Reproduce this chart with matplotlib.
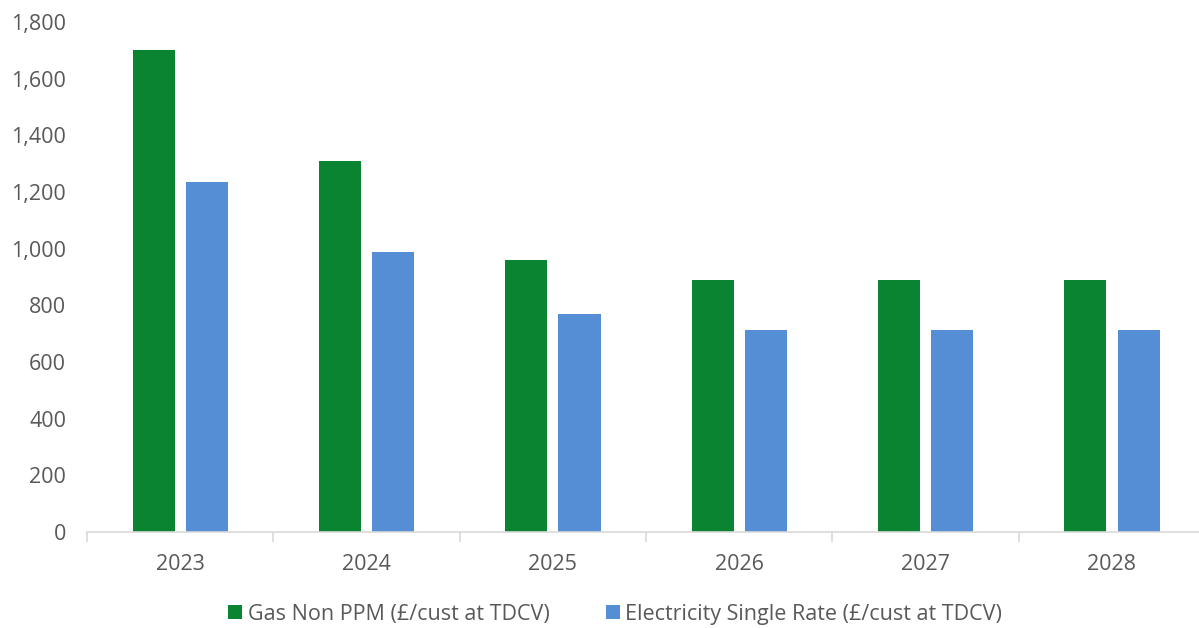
import matplotlib.pyplot as plt
import numpy as np

years = ["2023", "2024", "2025", "2026", "2027", "2028"]
gas = [1700, 1310, 960, 890, 890, 890]
elec = [1235, 988, 770, 713, 713, 713]
labels = ["Gas Non PPM (£/cust at TDCV)", "Electricity Single Rate (£/cust at TDCV)"]

plt.rcParams['font.family'] = ['Open Sans', 'DejaVu Sans']

fig = plt.figure(figsize=(11.99, 6.28), dpi=100)
ax = fig.add_axes([0.0726, 0.153, 0.9325, 0.812])

x = np.arange(len(years))
w = 0.226
gap = 0.06
ax.bar(x - (w + gap) / 2, gas, w, color="#0A8431", label=labels[0])
ax.bar(x + (w + gap) / 2, elec, w, color="#558ED5", label=labels[1])

ax.set_xlim(-0.5, len(years) - 0.5)
ax.set_ylim(0, 1800)
ax.set_yticks(range(0, 1801, 200))
ax.set_yticklabels([f"{v:,}" for v in range(0, 1801, 200)])
ax.set_xticks(x)
ax.set_xticklabels(years)
ax.set_xticks(np.arange(-0.5, len(years)), minor=True)

for s in ["top", "right", "left"]:
    ax.spines[s].set_visible(False)
ax.spines["bottom"].set_color("#D9D9D9")
ax.spines["bottom"].set_linewidth(1.2)

ax.tick_params(axis="y", length=0, pad=15, labelsize=15.5, labelcolor="#595959")
ax.tick_params(axis="x", which="major", length=0, pad=16, labelsize=15.5, labelcolor="#595959")
ax.tick_params(axis="x", which="minor", length=7, color="#D9D9D9", width=1.2)

# legend placed in figure coords (axes run past the right edge)
ax.legend(loc="center", bbox_to_anchor=(0.513, 0.022),
          bbox_transform=fig.transFigure, ncol=2, frameon=False,
          fontsize=15.5, labelcolor="#595959", handlelength=0.65, handleheight=0.65,
          handletextpad=0.25, columnspacing=2.6, borderpad=0)

fig.savefig("out.png", dpi=100)
